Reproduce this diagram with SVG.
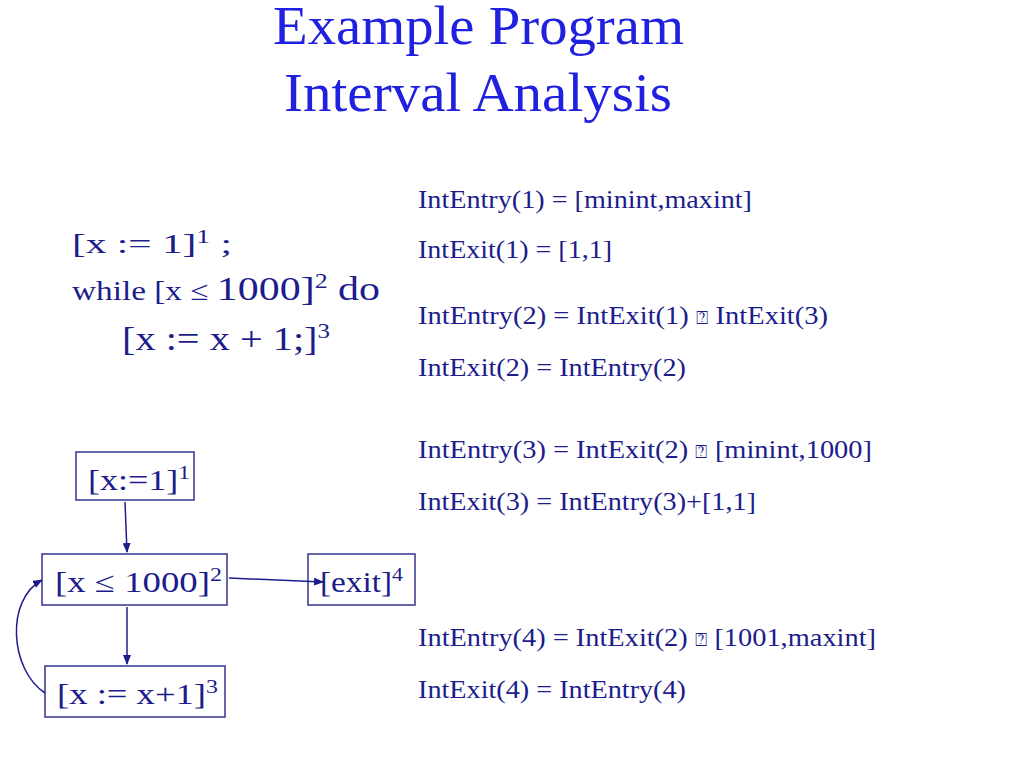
<svg xmlns="http://www.w3.org/2000/svg" width="1024" height="768" viewBox="0 0 1024 768">
<style>
text{font-family:"Liberation Serif","DejaVu Serif",serif;fill:#1c1c8c}
.t{fill:#2020e0;font-size:54px}
.e{font-size:25px}
.n{font-size:29px}
rect{fill:none;stroke:#33338f;stroke-width:1.5}
.c path{fill:none;stroke:#1c1c8c;stroke-width:1.5;marker-end:url(#a)}
.q{font-family:"DejaVu Sans",sans-serif;font-size:18px}
</style>
<defs><marker id="a" markerWidth="10" markerHeight="8" refX="9" refY="4" orient="auto" markerUnits="userSpaceOnUse"><path d="M0,0L10,4L0,8z" fill="#1c1c8c"/></marker></defs>
<rect x="0" y="0" width="1024" height="768" style="fill:#fff;stroke:none"/>
<g id="title"><text class="t" x="273" y="44" textLength="411" lengthAdjust="spacingAndGlyphs">Example Program</text><text class="t" x="284" y="111" textLength="388" lengthAdjust="spacingAndGlyphs">Interval Analysis</text></g>
<g id="code">
<text x="72" y="253" font-size="27" textLength="160" lengthAdjust="spacingAndGlyphs">[x := 1]<tspan font-size="18" dy="-10">1</tspan><tspan dy="10"> ;</tspan></text>
<text x="72" y="300" font-size="27" textLength="308" lengthAdjust="spacingAndGlyphs">while [x ≤ <tspan font-size="34">1000]</tspan><tspan font-size="21" dy="-12">2</tspan><tspan font-size="34" dy="12"> do</tspan></text>
<text x="122" y="350" font-size="34" textLength="208" lengthAdjust="spacingAndGlyphs">[x := x + 1;]<tspan font-size="21" dy="-12">3</tspan></text>
</g>
<g id="eqs" class="e">
<text x="418" y="208" textLength="334" lengthAdjust="spacingAndGlyphs">IntEntry(1) = [minint,maxint]</text>
<text x="418" y="258" textLength="194" lengthAdjust="spacingAndGlyphs">IntExit(1) = [1,1]</text>
<text x="418" y="324" textLength="410" lengthAdjust="spacingAndGlyphs">IntEntry(2) = IntExit(1) <tspan class="q">⍰</tspan> IntExit(3)</text>
<text x="418" y="376" textLength="268" lengthAdjust="spacingAndGlyphs">IntExit(2) = IntEntry(2)</text>
<text x="418" y="458" textLength="454" lengthAdjust="spacingAndGlyphs">IntEntry(3) = IntExit(2) <tspan class="q">⍰</tspan> [minint,1000]</text>
<text x="418" y="510" textLength="338" lengthAdjust="spacingAndGlyphs">IntExit(3) = IntEntry(3)+[1,1]</text>
<text x="418" y="646" textLength="458" lengthAdjust="spacingAndGlyphs">IntEntry(4) = IntExit(2) <tspan class="q">⍰</tspan> [1001,maxint]</text>
<text x="418" y="698" textLength="268" lengthAdjust="spacingAndGlyphs">IntExit(4) = IntEntry(4)</text>
</g>
<g id="n1"><rect x="76" y="452" width="118" height="48"/><text class="n" x="88" y="490" textLength="102" lengthAdjust="spacingAndGlyphs">[x:=1]<tspan font-size="19" dy="-11">1</tspan></text></g>
<g id="n2"><rect x="42" y="554" width="185" height="51"/><text class="n" x="55" y="592" textLength="167" lengthAdjust="spacingAndGlyphs">[x ≤ 1000]<tspan font-size="19" dy="-11">2</tspan></text></g>
<g id="n4"><rect x="308" y="554" width="107" height="51"/><text class="n" x="320" y="592" textLength="83" lengthAdjust="spacingAndGlyphs">[exit]<tspan font-size="19" dy="-11">4</tspan></text></g>
<g id="n3"><rect x="45" y="666" width="180" height="51"/><text class="n" x="57" y="704" textLength="161" lengthAdjust="spacingAndGlyphs">[x := x+1]<tspan font-size="19" dy="-11">3</tspan></text></g>
<g id="connectors" class="c">
<path d="M125,502L127,552"/>
<path d="M127,607L127,664"/>
<path d="M229,578L323,582"/>
<path d="M45,693C10,670 5,600 42,580"/>
</g>
</svg>
